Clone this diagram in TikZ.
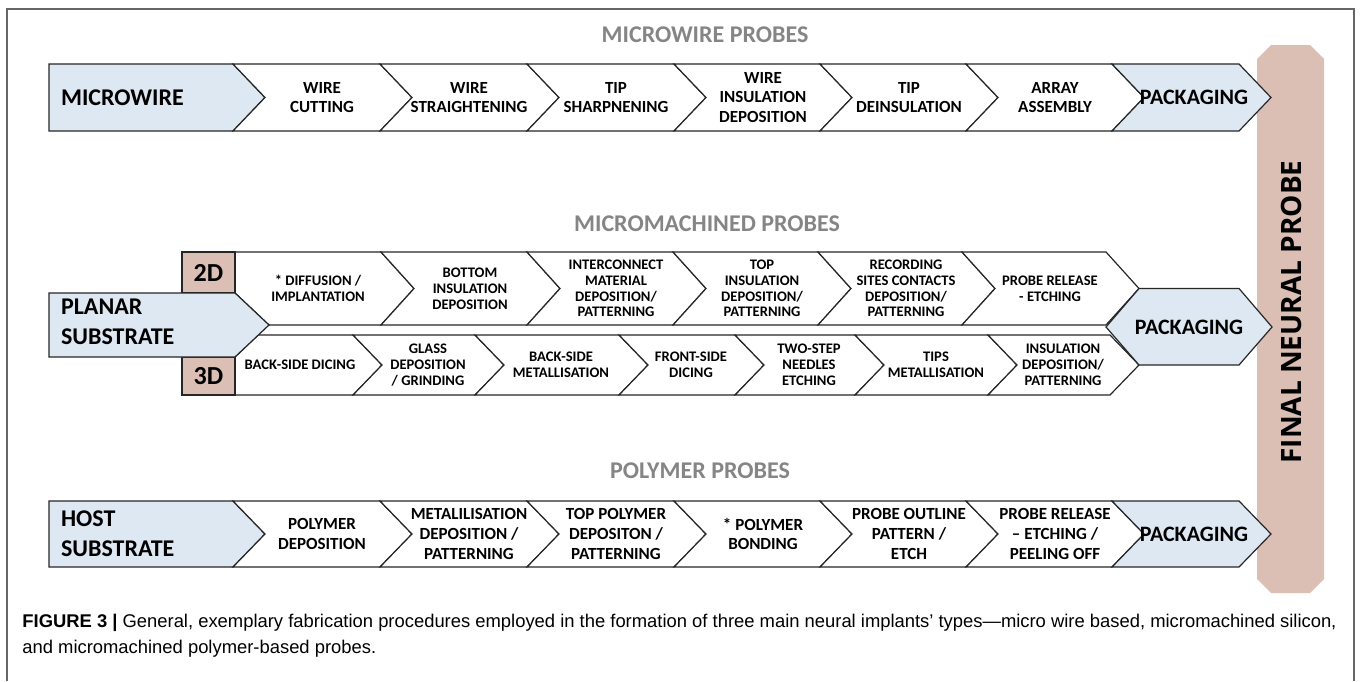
\documentclass[tikz,border=0pt]{standalone}
\usepackage{fontspec}
\setmainfont{Carlito}
\newfontfamily\barfont{Open Sans}
\newfontfamily\capfont{Liberation Sans}
\definecolor{srcblue}{HTML}{DEE8F3}
\definecolor{dimbrown}{HTML}{DBBFB4}
\definecolor{headgray}{HTML}{858585}
\tikzstyle{stage}=[draw=black!85, line width=0.6pt, fill=white]
\tikzstyle{source}=[stage, fill=srcblue]
\tikzstyle{dimbox}=[stage, fill=dimbrown]
\tikzstyle{heading}=[text=headgray, font=\bfseries\fontsize{12}{14}\selectfont]
\tikzstyle{rowlabel}=[anchor=west, align=left, font=\bfseries\fontsize{12}{15}\selectfont]
\tikzstyle{steptext}=[align=center, font=\bfseries\fontsize{8.5}{9.8}\selectfont]
\tikzstyle{fabtext}=[align=center, font=\bfseries\fontsize{7.3}{7.9}\selectfont]
\tikzstyle{packtext}=[font=\bfseries\fontsize{11}{13}\selectfont]

\begin{document}
\begin{tikzpicture}[x=0.5pt, y=-0.5pt]
\useasboundingbox (0,0) rectangle (1360,681);
% Frame
    \draw[black!60, line width=0.7pt] (7,681) -- (7,9) -- (1354,9) -- (1354,681);
% Final probe bar
    \fill[dimbrown] (1257,59) -- (1271,45) -- (1310,45) -- (1324,59) -- (1324,579) -- (1310,593) -- (1271,593) -- (1257,579) -- cycle;
    \node[rotate=90, font=\barfont\bfseries\fontsize{14}{16}\selectfont] (final) at (1291,312) {FINAL NEURAL PROBE};
% Headings
    \node[heading] (hwire) at (705,35) {MICROWIRE PROBES};
    \node[heading] (hmach) at (707,224) {MICROMACHINED PROBES};
    \node[heading] (hpoly) at (700,471) {POLYMER PROBES};
% Microwire row
    \draw[source] (49,64) -- (233,64) -- (265,97.5) -- (233,131) -- (49,131) -- cycle;
    \draw[stage] (233,64) -- (380,64) -- (412,97.5) -- (380,131) -- (233,131) -- (265,97.5) -- cycle;
    \draw[stage] (380,64) -- (527,64) -- (559,97.5) -- (527,131) -- (380,131) -- (412,97.5) -- cycle;
    \draw[stage] (527,64) -- (674,64) -- (706,97.5) -- (674,131) -- (527,131) -- (559,97.5) -- cycle;
    \draw[stage] (674,64) -- (820,64) -- (852,97.5) -- (820,131) -- (674,131) -- (706,97.5) -- cycle;
    \draw[stage] (820,64) -- (966,64) -- (998,97.5) -- (966,131) -- (820,131) -- (852,97.5) -- cycle;
    \draw[stage] (966,64) -- (1112,64) -- (1144,97.5) -- (1112,131) -- (966,131) -- (998,97.5) -- cycle;
    \draw[source] (1112,64) -- (1239,64) -- (1271,97.5) -- (1239,131) -- (1112,131) -- (1144,97.5) -- cycle;
    \node[rowlabel] (microwire) at (54,97.5) {MICROWIRE};
    \node[steptext] (cutting) at (322,97.5) {WIRE\\CUTTING};
    \node[steptext] (straight) at (469,97.5) {WIRE\\STRAIGHTENING};
    \node[steptext] (sharpen) at (616,97.5) {TIP\\SHARPNENING};
    \node[steptext] (insulate) at (763,97.5) {WIRE\\INSULATION\\DEPOSITION};
    \node[steptext] (deinsul) at (909,97.5) {TIP\\DEINSULATION};
    \node[steptext] (array) at (1055,97.5) {ARRAY\\ASSEMBLY};
    \node[packtext] (packwire) at (1194,97.5) {PACKAGING};
% Micromachined rows, 2D
    \draw[stage] (235,252) -- (381,252) -- (414,288.5) -- (381,325) -- (269,325) -- (235,293) -- cycle;
    \draw[stage] (381,252) -- (527,252) -- (560,288.5) -- (527,325) -- (381,325) -- (414,288.5) -- cycle;
    \draw[stage] (527,252) -- (673,252) -- (706,288.5) -- (673,325) -- (527,325) -- (560,288.5) -- cycle;
    \draw[stage] (673,252) -- (818,252) -- (851,288.5) -- (818,325) -- (673,325) -- (706,288.5) -- cycle;
    \draw[stage] (818,252) -- (962,252) -- (995,288.5) -- (962,325) -- (818,325) -- (851,288.5) -- cycle;
    \draw[stage] (962,252) -- (1106,252) -- (1139,288.5) -- (1106,325) -- (962,325) -- (995,288.5) -- cycle;
% Micromachined rows, 3D
    \draw[stage] (258,335) -- (353,335) -- (382,365) -- (353,395) -- (235,395) -- (235,357) -- cycle;
    \draw[stage] (353,335) -- (475,335) -- (504,365) -- (475,395) -- (353,395) -- (382,365) -- cycle;
    \draw[stage] (475,335) -- (619,335) -- (648,365) -- (619,395) -- (475,395) -- (504,365) -- cycle;
    \draw[stage] (619,335) -- (735,335) -- (764,365) -- (735,395) -- (619,395) -- (648,365) -- cycle;
    \draw[stage] (735,335) -- (855,335) -- (884,365) -- (855,395) -- (735,395) -- (764,365) -- cycle;
    \draw[stage] (855,335) -- (988,335) -- (1017,365) -- (988,395) -- (855,395) -- (884,365) -- cycle;
    \draw[stage] (988,335) -- (1110,335) -- (1139,365) -- (1110,395) -- (988,395) -- (1017,365) -- cycle;
% Substrate, dimension boxes, packaging
    \draw[dimbox] (182,252) rectangle (235,293);
    \draw[dimbox] (182,357) rectangle (235,395);
    \draw[source] (49,293) -- (235,293) -- (269,325) -- (235,357) -- (49,357) -- cycle;
    \draw[source] (1106,327) -- (1139,288.5) -- (1239,288.5) -- (1272,327) -- (1239,365) -- (1139,365) -- cycle;
    \node[rowlabel] (planar) at (54,322) {PLANAR\\SUBSTRATE};
    \node[font=\bfseries\fontsize{13}{15}\selectfont] (twod) at (208.5,272.5) {2D};
    \node[font=\bfseries\fontsize{13}{15}\selectfont] (threed) at (208.5,376) {3D};
    \node[packtext] (packmach) at (1189,327) {PACKAGING};
    \node[fabtext] (diffuse) at (318,288.5) {* DIFFUSION /\\IMPLANTATION};
    \node[fabtext] (bottom) at (470,288.5) {BOTTOM\\INSULATION\\DEPOSITION};
    \node[fabtext] (inter) at (616,288.5) {INTERCONNECT\\MATERIAL\\DEPOSITION/\\PATTERNING};
    \node[fabtext] (topins) at (762,288.5) {TOP\\INSULATION\\DEPOSITION/\\PATTERNING};
    \node[fabtext] (record) at (906,288.5) {RECORDING\\SITES CONTACTS\\DEPOSITION/\\PATTERNING};
    \node[fabtext] (release) at (1050,288.5) {PROBE RELEASE\\- ETCHING};
    \node[fabtext] (backdice) at (300,365) {BACK-SIDE DICING};
    \node[fabtext] (glass) at (428,365) {GLASS\\DEPOSITION\\/ GRINDING};
    \node[fabtext] (backmet) at (561,365) {BACK-SIDE\\METALLISATION};
    \node[fabtext] (frontdice) at (691,365) {FRONT-SIDE\\DICING};
    \node[fabtext] (twostep) at (809,365) {TWO-STEP\\NEEDLES\\ETCHING};
    \node[fabtext] (tipsmet) at (936,365) {TIPS\\METALLISATION};
    \node[fabtext] (insdep) at (1063,365) {INSULATION\\DEPOSITION/\\PATTERNING};
% Polymer row
    \draw[source] (49,501) -- (233,501) -- (265,534) -- (233,567) -- (49,567) -- cycle;
    \draw[stage] (233,501) -- (380,501) -- (412,534) -- (380,567) -- (233,567) -- (265,534) -- cycle;
    \draw[stage] (380,501) -- (527,501) -- (559,534) -- (527,567) -- (380,567) -- (412,534) -- cycle;
    \draw[stage] (527,501) -- (674,501) -- (706,534) -- (674,567) -- (527,567) -- (559,534) -- cycle;
    \draw[stage] (674,501) -- (820,501) -- (852,534) -- (820,567) -- (674,567) -- (706,534) -- cycle;
    \draw[stage] (820,501) -- (966,501) -- (998,534) -- (966,567) -- (820,567) -- (852,534) -- cycle;
    \draw[stage] (966,501) -- (1112,501) -- (1144,534) -- (1112,567) -- (966,567) -- (998,534) -- cycle;
    \draw[source] (1112,501) -- (1239,501) -- (1271,534) -- (1239,567) -- (1112,567) -- (1144,534) -- cycle;
    \node[rowlabel] (host) at (54,534) {HOST\\SUBSTRATE};
    \node[steptext] (polydep) at (322,534) {POLYMER\\DEPOSITION};
    \node[steptext] (metal) at (469,534) {METALILISATION\\DEPOSITION /\\PATTERNING};
    \node[steptext] (toppoly) at (616,534) {TOP POLYMER\\DEPOSITON /\\PATTERNING};
    \node[steptext] (bonding) at (763,534) {* POLYMER\\BONDING};
    \node[steptext] (outline) at (909,534) {PROBE OUTLINE\\PATTERN /\\ETCH};
    \node[steptext] (peel) at (1055,534) {PROBE RELEASE\\– ETCHING /\\PEELING OFF};
    \node[packtext] (packpoly) at (1194,534) {PACKAGING};
% Caption
    \node[anchor=north west, align=left, inner sep=0pt, font=\capfont\fontsize{9.2}{13}\selectfont] (caption) at (22,614)
        {\textbf{FIGURE 3 |} General, exemplary fabrication procedures employed in the formation of three main neural implants’ types—micro wire based, micromachined silicon,\\and micromachined polymer-based probes.};
\end{tikzpicture}
\end{document}
